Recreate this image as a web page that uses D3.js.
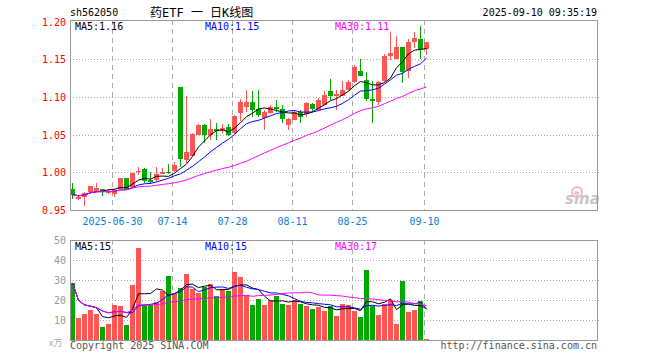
<!DOCTYPE html>
<html>
<head>
<meta charset="utf-8">
<script src="https://cdn.jsdelivr.net/npm/d3@7"></script>
<style>
body { margin: 0; background: #fff; }
svg text { font-family: "DejaVu Sans Mono", monospace; font-size: 10px; }
</style>
</head>
<body>
<div id="chart"></div>
<script>
const dates = [
    "2025-06-19", "2025-06-20", "2025-06-23", "2025-06-24", "2025-06-25", "2025-06-26", "2025-06-27", "2025-06-30",
    "2025-07-01", "2025-07-02", "2025-07-03", "2025-07-04", "2025-07-07", "2025-07-08", "2025-07-09", "2025-07-10",
    "2025-07-11", "2025-07-14", "2025-07-15", "2025-07-16", "2025-07-17", "2025-07-18", "2025-07-21", "2025-07-22",
    "2025-07-23", "2025-07-24", "2025-07-25", "2025-07-28", "2025-07-29", "2025-07-30", "2025-07-31", "2025-08-01",
    "2025-08-04", "2025-08-05", "2025-08-06", "2025-08-07", "2025-08-08", "2025-08-11", "2025-08-12", "2025-08-13",
    "2025-08-14", "2025-08-15", "2025-08-18", "2025-08-19", "2025-08-20", "2025-08-21", "2025-08-22", "2025-08-25",
    "2025-08-26", "2025-08-27", "2025-08-28", "2025-08-29", "2025-09-01", "2025-09-02", "2025-09-03", "2025-09-04",
    "2025-09-05", "2025-09-08", "2025-09-09", "2025-09-10"
];

const opens = [
    0.979, 0.965, 0.968, 0.974, 0.976, 0.979, 0.974, 0.972, 0.979, 0.993,
    0.981, 1.001, 1.005, 0.990, 0.991, 0.999, 1.001, 1.002, 1.114, 1.018,
    1.023, 1.050, 1.063, 1.050, 1.058, 1.055, 1.060, 1.053, 1.080, 1.088,
    1.094, 1.085, 1.073, 1.079, 1.087, 1.085, 1.063, 1.070, 1.081, 1.078,
    1.091, 1.083, 1.090, 1.108, 1.102, 1.102, 1.110, 1.120, 1.135, 1.123,
    1.098, 1.094, 1.122, 1.155, 1.151, 1.167, 1.135, 1.174, 1.177, 1.164
];
const highs = [
    0.987, 0.969, 0.975, 0.983, 0.986, 0.979, 0.979, 0.978, 0.993, 0.993,
    1.000, 1.007, 1.006, 1.001, 1.007, 1.006, 1.012, 1.014, 1.114, 1.102,
    1.053, 1.065, 1.065, 1.071, 1.066, 1.064, 1.065, 1.077, 1.098, 1.109,
    1.108, 1.110, 1.083, 1.090, 1.097, 1.090, 1.072, 1.083, 1.083, 1.094,
    1.093, 1.099, 1.108, 1.124, 1.109, 1.121, 1.123, 1.143, 1.151, 1.133,
    1.121, 1.121, 1.157, 1.187, 1.181, 1.167, 1.177, 1.186, 1.195, 1.173
];
const lows = [
    0.965, 0.964, 0.956, 0.973, 0.975, 0.969, 0.972, 0.968, 0.978, 0.979,
    0.981, 0.997, 0.987, 0.985, 0.988, 0.998, 0.999, 1.001, 1.007, 1.013,
    1.023, 1.050, 1.039, 1.044, 1.044, 1.053, 1.049, 1.052, 1.068, 1.081,
    1.074, 1.074, 1.057, 1.078, 1.080, 1.066, 1.057, 1.070, 1.066, 1.074,
    1.081, 1.083, 1.090, 1.097, 1.083, 1.102, 1.110, 1.119, 1.129, 1.095,
    1.066, 1.090, 1.120, 1.149, 1.151, 1.119, 1.125, 1.165, 1.151, 1.156
];
const closes = [
    0.971, 0.968, 0.973, 0.982, 0.980, 0.976, 0.976, 0.977, 0.993, 0.979,
    1.000, 1.002, 0.989, 0.987, 0.999, 1.001, 1.000, 1.010, 1.018, 1.028,
    1.052, 1.063, 1.050, 1.058, 1.055, 1.059, 1.049, 1.075, 1.094, 1.094,
    1.083, 1.077, 1.081, 1.087, 1.085, 1.072, 1.071, 1.081, 1.074, 1.092,
    1.085, 1.096, 1.103, 1.102, 1.105, 1.110, 1.120, 1.140, 1.129, 1.098,
    1.095, 1.120, 1.155, 1.159, 1.167, 1.134, 1.173, 1.179, 1.164, 1.173
];
// volume in 万手
const volumes = [
    28.8, 11.3, 13.3, 15.3, 13.3, 6.6, 8.3, 17.8, 17.2, 7.7,
    27.8, 46.3, 17.8, 17.8, 19.3, 24.8, 32.3, 23.2, 26.2, 33.3,
    25.8, 23.8, 26.8, 28.3, 22.3, 25.7, 24.7, 34.3, 31.7, 22.7,
    17.7, 20.8, 17.7, 20.2, 22.2, 18.3, 17.7, 20.2, 18.3, 17.3,
    15.7, 16.7, 14.8, 17.3, 12.2, 18.2, 17.7, 14.7, 11.7, 35.2,
    17.5, 12.7, 18.5, 20.2, 8.2, 29.8, 14.3, 15.3, 19.7, 0.5
];

const tickDates = ["2025-06-30", "2025-07-14", "2025-07-28", "2025-08-11", "2025-08-25", "2025-09-10"];
const priceTicks = [0.95, 1.00, 1.05, 1.10, 1.15, 1.20];
const volTicks = [10, 20, 30, 40, 50];
const maPeriods = [5, 10, 30];
const priceMaText = ["1.16", "1.15", "1.11"];
const volMaText = ["15", "15", "17"];

const W = 660, H = 360;
const left = 70, right = 597;
const pTop = 20, pBottom = 210;
const vTop = 240, vBottom = 340;
const red = "#ff5555", green = "#00a800";
const maColors = ["#000000", "#0000ff", "#ff00ff"];

const data = dates.map((d, i) => ({
    date: d,
    open: opens[i], high: highs[i], low: lows[i], close: closes[i],
    vol: volumes[i]
}));

const svg = d3.select("#chart")
    .append("svg")
    .attr("width", W)
    .attr("height", H)
    .style("display", "block");

const x = d3.scaleBand()
    .domain(dates)
    .range([left, left + 6 * dates.length - 1])
    .paddingInner(1 / 6)
    .paddingOuter(0);
const cx = (d) => x(d) + x.bandwidth() / 2;

const y = d3.scaleLinear().domain([0.95, 1.20]).range([210.5, 21.8]);
const vy = d3.scaleLinear().domain([0, 50]).range([340.5, 240.5]);

const isUp = (d) => d.close >= d.open;

function movingAvg(values, n) {
    return values.map((v, i) => {
        const s = values.slice(Math.max(0, i - n + 1), i + 1);
        return d3.mean(s);
    });
}

// grids
const crisp = (v) => Math.floor(v) + 0.5;
svg.append("g")
    .selectAll("line")
    .data(priceTicks.slice(1, -1))
    .enter()
    .append("line")
    .attr("x1", left).attr("x2", right + 2)
    .attr("y1", (d) => crisp(y(d))).attr("y2", (d) => crisp(y(d)))
    .attr("stroke", "#aaa")
    .attr("stroke-dasharray", "1,2");

svg.append("g")
    .selectAll("line")
    .data(volTicks.slice(0, -1))
    .enter()
    .append("line")
    .attr("x1", left).attr("x2", right + 2)
    .attr("y1", (d) => crisp(vy(d))).attr("y2", (d) => crisp(vy(d)))
    .attr("stroke", "#aaa")
    .attr("stroke-dasharray", "1,2");

[[pTop, pBottom], [vTop, vBottom]].forEach(([t, b]) => {
    svg.append("g")
        .selectAll("line")
        .data(tickDates)
        .enter()
        .append("line")
        .attr("x1", (d) => x(d) + 0.5).attr("x2", (d) => x(d) + 0.5)
        .attr("y1", t).attr("y2", b)
        .attr("stroke", "#aaa")
        .attr("stroke-dasharray", "5,4");
});

// sina watermark
const logo = svg.append("g").attr("opacity", 0.55);
logo.append("circle").attr("cx", 577).attr("cy", 192).attr("r", 5)
    .attr("fill", "none").attr("stroke", "#f08080").attr("stroke-width", 2);
logo.append("circle").attr("cx", 576).attr("cy", 193).attr("r", 2).attr("fill", "#f08080");
logo.append("text").attr("x", 565).attr("y", 204)
    .style("font-family", "DejaVu Sans").style("font-size", "15px")
    .style("font-style", "italic").style("font-weight", "bold")
    .attr("fill", "#999").text("sina");

// candles
const candles = svg.append("g").attr("shape-rendering", "crispEdges");
candles.selectAll("line")
    .data(data)
    .enter()
    .append("line")
    .attr("x1", (d) => cx(d.date)).attr("x2", (d) => cx(d.date))
    .attr("y1", (d) => Math.round(y(d.high))).attr("y2", (d) => Math.round(y(d.low)))
    .attr("stroke", (d) => isUp(d) ? red : green)
    .attr("stroke-width", 1);
candles.selectAll("rect")
    .data(data)
    .enter()
    .append("rect")
    .attr("x", (d) => x(d.date))
    .attr("width", x.bandwidth())
    .attr("y", (d) => Math.round(y(Math.max(d.open, d.close))))
    .attr("height", (d) => Math.max(1, Math.round(Math.abs(y(d.open) - y(d.close)))))
    .attr("fill", (d) => isUp(d) ? red : green);

// volume bars
svg.append("g")
    .attr("shape-rendering", "crispEdges")
    .selectAll("rect")
    .data(data)
    .enter()
    .append("rect")
    .attr("x", (d) => x(d.date))
    .attr("width", x.bandwidth())
    .attr("y", (d) => Math.round(vy(d.vol)))
    .attr("height", (d) => Math.max(1, 340 - Math.round(vy(d.vol))))
    .attr("fill", (d) => isUp(d) ? red : green);

// moving averages
maPeriods.forEach((n, k) => {
    const pm = movingAvg(closes, n);
    const vm = movingAvg(volumes, n);
    svg.append("path")
        .datum(dates.map((d, i) => [cx(d), y(pm[i])]))
        .attr("d", d3.line())
        .attr("fill", "none")
        .attr("stroke", maColors[k])
        .attr("stroke-width", 1);
    svg.append("path")
        .datum(dates.map((d, i) => [cx(d), vy(vm[i])]))
        .attr("d", d3.line())
        .attr("fill", "none")
        .attr("stroke", maColors[k])
        .attr("stroke-width", 1);
});

// frames
[[pTop, pBottom], [vTop, vBottom]].forEach(([t, b]) => {
    svg.append("rect")
        .attr("x", left + 0.5).attr("y", t + 0.5)
        .attr("width", right - left).attr("height", b - t)
        .attr("fill", "none")
        .attr("stroke", "#999");
});

// axis labels
svg.append("g")
    .attr("transform", `translate(${left},0)`)
    .call(d3.axisLeft(y).tickValues(priceTicks).tickFormat(d3.format(".2f")).tickSize(0).tickPadding(4))
    .call((g) => g.select(".domain").remove())
    .selectAll("text")
    .style("font-family", "DejaVu Sans Mono")
    .style("font-size", "10px")
    .attr("fill", "#ff0000");

svg.append("g")
    .attr("transform", `translate(${left},0)`)
    .call(d3.axisLeft(vy).tickValues(volTicks).tickSize(0).tickPadding(4))
    .call((g) => g.select(".domain").remove())
    .selectAll("text")
    .style("font-family", "DejaVu Sans Mono")
    .style("font-size", "10px")
    .attr("fill", "#999");

svg.append("text")
    .attr("x", 49).attr("y", 346)
    .style("font-family", "Noto Sans CJK SC")
    .style("font-size", "9px")
    .attr("fill", "#aaa")
    .text("x万");

svg.append("g")
    .selectAll("text")
    .data(tickDates)
    .enter()
    .append("text")
    .attr("x", (d) => x(d) + 0.5)
    .attr("y", 225)
    .attr("text-anchor", "middle")
    .attr("fill", "#0a7fd4")
    .text((d, i) => i === 0 ? d : d.slice(5));

// MA legends
const legendX = [75, 205, 335];
maPeriods.forEach((n, k) => {
    svg.append("text")
        .attr("x", legendX[k]).attr("y", 30)
        .attr("fill", maColors[k])
        .text(`MA${n}:${priceMaText[k]}`);
    svg.append("text")
        .attr("x", legendX[k]).attr("y", 250)
        .attr("fill", maColors[k])
        .text(`MA${n}:${volMaText[k]}`);
});

// header and footer
svg.append("text").attr("x", 70).attr("y", 16).attr("fill", "#000").text("sh562050");
svg.append("text").attr("x", 150).attr("y", 17)
    .style("font-family", "'DejaVu Sans Mono', 'Noto Sans CJK SC'")
    .style("font-size", "12px")
    .attr("fill", "#000")
    .text("药ETF 一 日K线图");
svg.append("text").attr("x", right).attr("y", 16).attr("text-anchor", "end")
    .attr("fill", "#000").text("2025-09-10 09:35:19");
svg.append("text").attr("x", 70).attr("y", 349).attr("fill", "#555").text("Copyright 2025 SINA.COM");
svg.append("text").attr("x", right).attr("y", 349).attr("text-anchor", "end")
    .attr("fill", "#555").text("http://finance.sina.com.cn");
</script>
</body>
</html>
